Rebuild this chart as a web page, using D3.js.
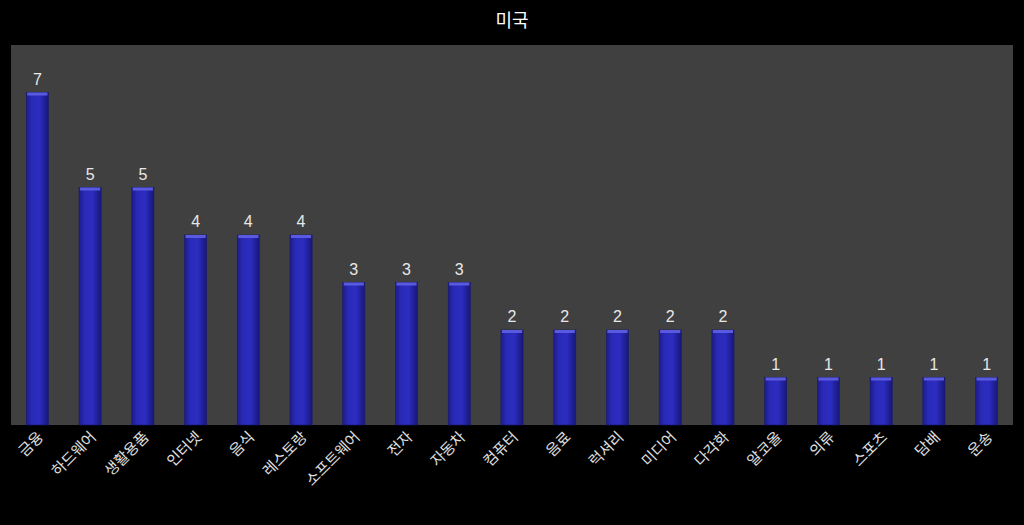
<!DOCTYPE html><html><head><meta charset="utf-8"><script src="https://cdn.jsdelivr.net/npm/d3@7"></script>
<style>body{margin:0;background:#000}</style></head><body><svg id="c" width="1024" height="525"></svg><script>
const categories=["금융","하드웨어","생활용품","인터넷","음식","레스토랑","소프트웨어","전자","자동차","컴퓨터","음료","럭셔리","미디어","다각화","알코올","의류","스포츠","담배","운송"];
const values=[7,5,5,4,4,4,3,3,3,2,2,2,2,2,1,1,1,1,1];
const title="미국";
const svg=d3.select("#c");
const L=11,R=1013,T=45,B=425;
const font="'Noto Sans CJK KR','Noto Sans',sans-serif";
svg.append("rect").attr("width",1024).attr("height",525).attr("fill","#000");
svg.append("rect").attr("x",L).attr("y",T).attr("width",R-L).attr("height",B-T).attr("fill","#404040");
svg.append("text").attr("x",512).attr("y",27).attr("text-anchor","middle").attr("fill","#fff").attr("font-size",18).attr("font-family",font).text(title);
const x=d3.scaleBand().domain(categories).range([L,R]).paddingInner(0.58).paddingOuter(0.29);
const y=d3.scaleLinear().domain([0,8]).range([B,T]);
const defs=svg.append("defs");
const g=defs.append("linearGradient").attr("id","bg").attr("x1",0).attr("x2",1).attr("y1",0).attr("y2",0);
[["0%","#1c1c8a"],["25%","#2a2ab8"],["60%","#2c2cc0"],["100%","#17177a"]].forEach(s=>g.append("stop").attr("offset",s[0]).attr("stop-color",s[1]));
const bars=svg.append("g").selectAll("g").data(categories).join("g");
bars.append("rect").attr("x",d=>x(d)).attr("y",(d,i)=>y(values[i])).attr("width",x.bandwidth()).attr("height",(d,i)=>B-y(values[i])).attr("fill","url(#bg)").attr("stroke","#1a1a70").attr("stroke-width",0.6);
bars.append("rect").attr("x",d=>x(d)+1).attr("y",(d,i)=>y(values[i])).attr("width",x.bandwidth()-2).attr("height",3).attr("fill","#5a5ae0");
bars.append("text").attr("x",d=>x(d)+x.bandwidth()/2).attr("y",(d,i)=>y(values[i])-8).attr("text-anchor","middle").attr("fill","#e8e8e8").attr("font-size",16).attr("font-family","'Liberation Sans',Arial,sans-serif").text((d,i)=>values[i]);
const ax=svg.append("g").attr("transform",`translate(0,${B})`).call(d3.axisBottom(x).tickSize(0).tickPadding(0));
ax.select(".domain").remove();
ax.selectAll("text").attr("fill","#e0e0e0").attr("font-size",15).attr("font-family",font).attr("text-anchor","end").attr("dy",0).attr("transform","translate(7,13) rotate(-45)");
</script></body></html>
